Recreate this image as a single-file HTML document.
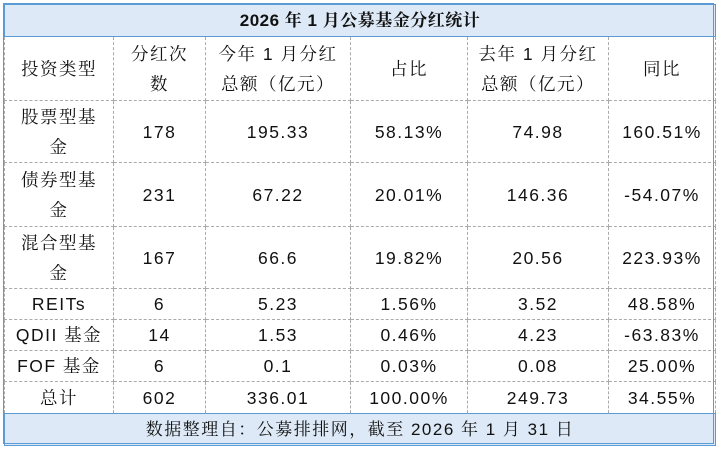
<!DOCTYPE html>
<html><head><meta charset="utf-8"><style>
body{margin:0;background:#fff;width:720px;height:450px;overflow:hidden}
table{position:absolute;left:4px;top:4px;border-collapse:collapse;table-layout:fixed;font-family:"Liberation Sans","Noto Serif CJK SC",serif;font-size:17.5px;color:#111}
td{border:1px dashed #aaa;text-align:center;vertical-align:middle;padding:0;line-height:30px;letter-spacing:1.5px}
.t td,.f td{background:#dde9f6;border:1.5px solid #5b9bd5}
.t td{font-weight:bold;font-size:17px;letter-spacing:0.5px}
.f td{letter-spacing:1.5px;font-size:17px}
.box{position:absolute;left:3px;top:3px;width:711px;height:441px;border:1.5px solid #5b9bd5;box-sizing:border-box;pointer-events:none}
</style></head><body>
<table>
<colgroup><col style="width:109px"><col style="width:92px"><col style="width:145px"><col style="width:117px"><col style="width:141px"><col style="width:107px"></colgroup>
<tr class="t" style="height:32px"><td colspan="6">2026 年 1 月公募基金分红统计</td></tr>
<tr style="height:64px"><td>投资类型</td><td>分红次<br>数</td><td>今年 1 月分红<br>总额（亿元）</td><td>占比</td><td>去年 1 月分红<br>总额（亿元）</td><td>同比</td></tr>
<tr style="height:62px"><td>股票型基<br>金</td><td>178</td><td>195.33</td><td>58.13%</td><td>74.98</td><td>160.51%</td></tr>
<tr style="height:64px"><td>债券型基<br>金</td><td>231</td><td>67.22</td><td>20.01%</td><td>146.36</td><td>-54.07%</td></tr>
<tr style="height:62px"><td>混合型基<br>金</td><td>167</td><td>66.6</td><td>19.82%</td><td>20.56</td><td>223.93%</td></tr>
<tr style="height:30px"><td>REITs</td><td>6</td><td>5.23</td><td>1.56%</td><td>3.52</td><td>48.58%</td></tr>
<tr style="height:31px"><td>QDII 基金</td><td>14</td><td>1.53</td><td>0.46%</td><td>4.23</td><td>-63.83%</td></tr>
<tr style="height:31px"><td>FOF 基金</td><td>6</td><td>0.1</td><td>0.03%</td><td>0.08</td><td>25.00%</td></tr>
<tr style="height:32px"><td>总计</td><td>602</td><td>336.01</td><td>100.00%</td><td>249.73</td><td>34.55%</td></tr>
<tr class="f" style="height:32px"><td colspan="6">数据整理自：公募排排网，截至 2026 年 1 月 31 日</td></tr>
</table>
<div class="box"></div>
</body></html>
